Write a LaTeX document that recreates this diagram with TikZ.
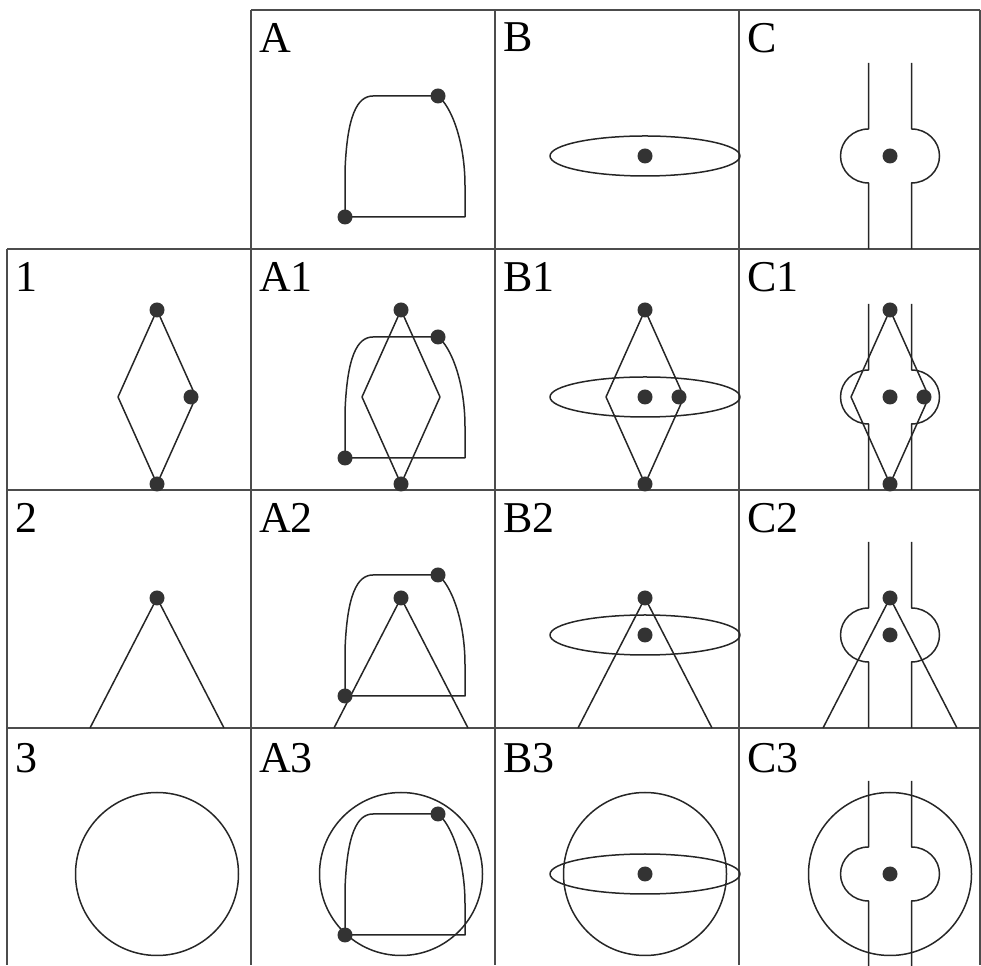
\documentclass[tikz,border=0pt]{standalone}
\usepackage{fontspec}
\setmainfont{Liberation Serif}
\pgfdeclarelayer{front}
\pgfsetlayers{main,front}
\tikzset{
    gridline/.style={line width=1.8pt, draw=black!70},
    figline/.style={line width=1.5pt, draw=black!85, line join=round},
    blob/.style={circle, fill=black!80, inner sep=0pt, minimum size=15pt},
    cellname/.style={anchor=north west, inner sep=0pt,
        font={\fontsize{44pt}{44pt}\selectfont}},
}
% the four base figures, drawn round (0,0) of the current scope
\newcommand{\figA}[1]{%
  \coordinate (#1-lo) at (-56,-61);
  \coordinate (#1-hi) at (37,60);
  \draw[figline] (#1-lo) -- (64,-61) -- (64,-30)
      .. controls (64,15) and (50,50) .. (#1-hi)
      -- (-28,60) .. controls (-44,60) and (-54,40) .. (-56,-15) -- cycle;
  \begin{pgfonlayer}{front}
    \node[blob] (#1-lodot) at (#1-lo) {};
    \node[blob] (#1-hidot) at (#1-hi) {};
  \end{pgfonlayer}
}
\newcommand{\figB}[1]{%
  \draw[figline] (0,0) ellipse[x radius=95, y radius=20];
  \begin{pgfonlayer}{front}
    \node[blob] (#1-mid) at (0,0) {};
  \end{pgfonlayer}
}
\newcommand{\figC}[1]{%
  \draw[figline] (-21.5,93) -- (-21.5,27)
      arc[start angle=90, end angle=270, x radius=28, y radius=27] -- (-21.5,-93);
  \draw[figline] (21.5,93) -- (21.5,27)
      arc[start angle=90, end angle=-90, x radius=28, y radius=27] -- (21.5,-93);
  \begin{pgfonlayer}{front}
    \node[blob] (#1-mid) at (0,0) {};
  \end{pgfonlayer}
}
\newcommand{\figOne}[1]{%
  \coordinate (#1-top) at (0,87);
  \coordinate (#1-bot) at (0,-87);
  \coordinate (#1-left) at (-39,0);
  \coordinate (#1-right) at (39,0);
  \draw[figline] (#1-top) -- (#1-right) -- (#1-bot) -- (#1-left) -- cycle;
  \begin{pgfonlayer}{front}
    \node[blob] (#1-topdot) at (#1-top) {};
    \node[blob] (#1-botdot) at (#1-bot) {};
  \end{pgfonlayer}
}
\newcommand{\figTwo}[1]{%
  \coordinate (#1-apex) at (0,37);
  \coordinate (#1-bl) at (-67,-93);
  \coordinate (#1-br) at (67,-93);
  \draw[figline] (#1-bl) -- (#1-apex) -- (#1-br);
  \begin{pgfonlayer}{front}
    \node[blob] (#1-apexdot) at (#1-apex) {};
  \end{pgfonlayer}
}
\newcommand{\figThree}{\draw[figline] (0,0) circle[radius=81.5];}
\newcommand{\sidedot}[1]{%
  \begin{pgfonlayer}{front}
    \node[blob] (#1-sidedot) at (34,0) {};
  \end{pgfonlayer}
}

\begin{document}
\begin{tikzpicture}[x=1pt,y=1pt]
\useasboundingbox (0,0) rectangle (981,965);

% table
\draw[gridline] (251,955) -- (980,955);
\draw[gridline] (7,716) -- (980,716);
\draw[gridline] (7,475) -- (980,475);
\draw[gridline] (7,237) -- (980,237);
\draw[gridline] (7,716) -- (7,0);
\draw[gridline] (251,955) -- (251,0);
\draw[gridline] (495,955) -- (495,0);
\draw[gridline] (739,955) -- (739,0);
\draw[gridline] (980,955) -- (980,0);

% cell names
\node[cellname] (lab-A) at (259,942) {A};
\node[cellname] (lab-B) at (503,942) {B};
\node[cellname] (lab-C) at (747,942) {C};
\node[cellname] (lab-1) at (15,703) {1};
\node[cellname] (lab-A1) at (259,703) {A1};
\node[cellname] (lab-B1) at (503,703) {B1};
\node[cellname] (lab-C1) at (747,703) {C1};
\node[cellname] (lab-2) at (15,462) {2};
\node[cellname] (lab-A2) at (259,462) {A2};
\node[cellname] (lab-B2) at (503,462) {B2};
\node[cellname] (lab-C2) at (747,462) {C2};
\node[cellname] (lab-3) at (15,222) {3};
\node[cellname] (lab-A3) at (259,222) {A3};
\node[cellname] (lab-B3) at (503,222) {B3};
\node[cellname] (lab-C3) at (747,222) {C3};

% row 0
\begin{scope}[shift={(401,809)}] \figA{a} \end{scope}
\begin{scope}[shift={(645,809)}] \figB{b} \end{scope}
\begin{scope}[shift={(890,809)}] \figC{c} \end{scope}

% row 1
\begin{scope}[shift={(157,568)}] \figOne{one} \sidedot{one} \end{scope}
\begin{scope}[shift={(401,568)}] \figA{aone} \figOne{aone} \end{scope}
\begin{scope}[shift={(645,568)}] \figB{bone} \figOne{bone} \sidedot{bone} \end{scope}
\begin{scope}[shift={(890,568)}] \figC{cone} \figOne{cone} \sidedot{cone} \end{scope}

% row 2
\begin{scope}[shift={(157,330)}] \figTwo{two} \end{scope}
\begin{scope}[shift={(401,330)}] \figA{atwo} \figTwo{atwo} \end{scope}
\begin{scope}[shift={(645,330)}] \figB{btwo} \figTwo{btwo} \end{scope}
\begin{scope}[shift={(890,330)}] \figC{ctwo} \figTwo{ctwo} \end{scope}

% row 3
\begin{scope}[shift={(157,91)}] \figThree \end{scope}
\begin{scope}[shift={(401,91)}] \figA{athree} \figThree \end{scope}
\begin{scope}[shift={(645,91)}] \figB{bthree} \figThree \end{scope}
\begin{scope}[shift={(890,91)}] \figC{cthree} \figThree \end{scope}
\end{tikzpicture}
\end{document}
